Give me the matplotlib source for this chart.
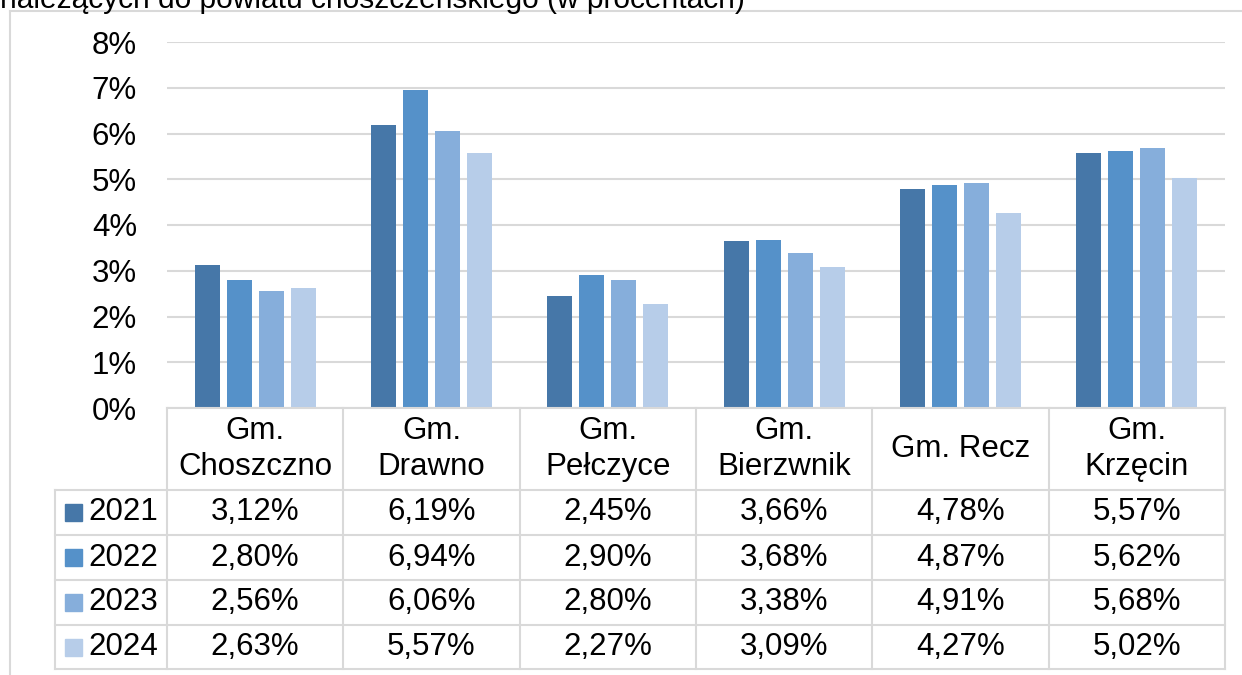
import matplotlib
matplotlib.use('Agg')
import matplotlib.pyplot as plt
import matplotlib.transforms as mtransforms
from matplotlib.lines import Line2D
from matplotlib.patches import Rectangle
import numpy as np

plt.rcParams['font.family'] = ['Liberation Sans', 'DejaVu Sans']

# ---- data ----
categories = ["Gm.\nChoszczno", "Gm.\nDrawno", "Gm.\nPełczyce", "Gm.\nBierzwnik", "Gm. Recz", "Gm.\nKrzęcin"]
years = ["2021", "2022", "2023", "2024"]
v2021 = [3.12, 6.19, 2.45, 3.66, 4.78, 5.57]
v2022 = [2.80, 6.94, 2.90, 3.68, 4.87, 5.62]
v2023 = [2.56, 6.06, 2.80, 3.38, 4.91, 5.68]
v2024 = [2.63, 5.57, 2.27, 3.09, 4.27, 5.02]
series = [v2021, v2022, v2023, v2024]
yticks = [0, 1, 2, 3, 4, 5, 6, 7, 8]
title_text = "należących do powiatu choszczeńskiego (w procentach)"

colors = ['#4677a8', '#5591c9', '#86aedb', '#b7cde9']
grid_c = '#d9d9d9'
FS = 22.5

W, H = 1242, 675
fig = plt.figure(figsize=(W / 100, H / 100), dpi=100)


def fx(p):
    return p / W


def fy(p):
    return 1 - p / H


x0, x1 = 167, 1225
y_top, y_zero = 42, 408
ax = fig.add_axes([fx(x0), fy(y_zero), fx(x1) - fx(x0), fy(y_top) - fy(y_zero)])

n = len(categories)
x = np.arange(n)
step, bw = 0.1815, 0.142
for k, (vals, c) in enumerate(zip(series, colors)):
    ax.bar(x + (k - 1.5) * step, vals, width=bw, color=c, zorder=3)

ax.set_xlim(-0.5, n - 0.5)
ax.set_ylim(0, 8)
ax.set_yticks(yticks)
ax.set_yticklabels([f"{t}%" for t in yticks])
ax.set_xticks([])
ax.tick_params(axis='y', length=0, pad=21.6, labelsize=FS)
ax.yaxis.grid(True, color=grid_c, lw=1.5)
ax.set_axisbelow(True)
for s in ax.spines.values():
    s.set_visible(False)

# ---- data table below ----
lw = 1.5
row_edges = [408, 490, 535, 580, 625, 669]
blend = mtransforms.blended_transform_factory(ax.transData, fig.transFigure)

# vertical lines at category boundaries
for b in np.arange(n + 1) - 0.5:
    fig.add_artist(Line2D([b, b], [fy(408), fy(669)], transform=blend, color=grid_c, lw=lw))
# legend column left edge
fig.add_artist(Line2D([fx(55), fx(55)], [fy(490), fy(669)], color=grid_c, lw=lw))
# horizontal lines
fig.add_artist(Line2D([fx(x0), fx(x1)], [fy(408), fy(408)], color=grid_c, lw=lw))
for r in row_edges[1:]:
    fig.add_artist(Line2D([fx(55), fx(x1)], [fy(r), fy(r)], color=grid_c, lw=lw))

# header labels
hdr_c = (row_edges[0] + row_edges[1]) / 2
for i, cat in enumerate(categories):
    fig.text(i, fy(hdr_c), cat, transform=blend, ha='center', va='center',
             fontsize=FS, linespacing=1.25)

# rows
for k, (yr, vals, c) in enumerate(zip(years, series, colors)):
    rc = (row_edges[k + 1] + row_edges[k + 2]) / 2
    fig.add_artist(Rectangle((fx(65), fy(rc + 8.5)), fx(17), 17 / H,
                             transform=fig.transFigure, color=c))
    fig.text(fx(88), fy(rc), yr, ha='left', va='center', fontsize=FS)
    for i, v in enumerate(vals):
        fig.text(i, fy(rc), f"{v:.2f}%".replace('.', ','), transform=blend,
                 ha='center', va='center', fontsize=FS)

# outer chart border (top & left visible)
fig.add_artist(Line2D([fx(10), 1], [fy(11), fy(11)], color=grid_c, lw=lw))
fig.add_artist(Line2D([fx(10), fx(10)], [fy(11), 0], color=grid_c, lw=lw))

# caption, cut off at the top edge as in the source
fig.text(fx(0), fy(8), title_text, ha='left', va='baseline', fontsize=21.5)

fig.savefig('out.png', dpi=100)
